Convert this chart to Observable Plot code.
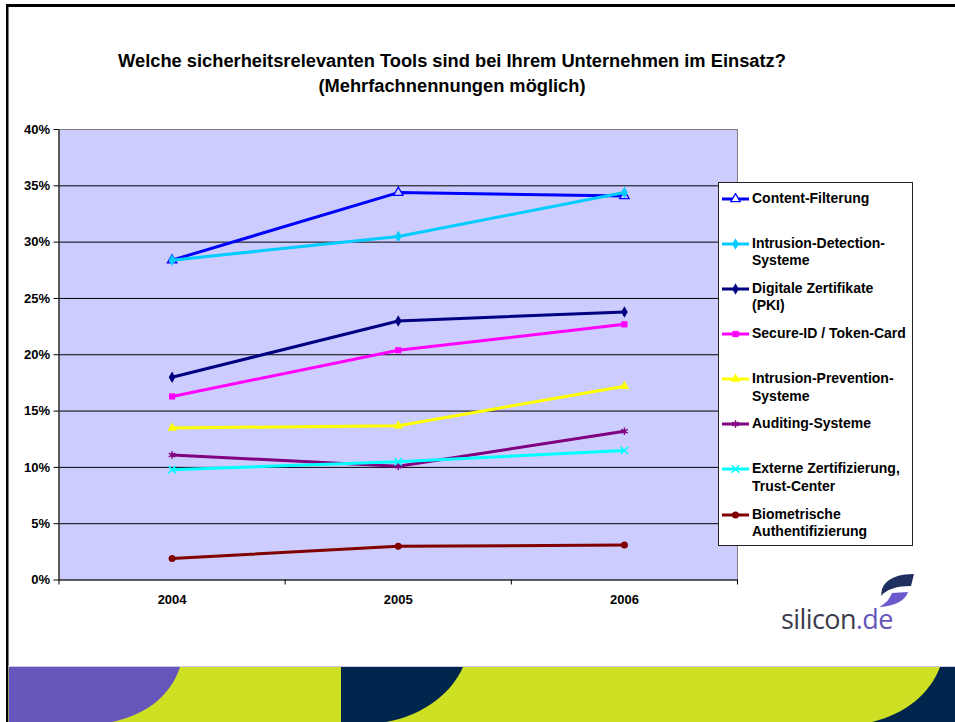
<!DOCTYPE html>
<html><head><meta charset="utf-8">
<script src="https://cdn.jsdelivr.net/npm/d3@7"></script>
<script src="https://cdn.jsdelivr.net/npm/@observablehq/plot@0.6"></script>
<style>
body{margin:0;background:#fff;font-family:"Liberation Sans",Arial,sans-serif;}
#page{position:relative;width:955px;height:722px;overflow:hidden;background:#fff;}
#page > *{position:absolute;}
#title{left:0;top:48px;width:904px;text-align:center;font-weight:bold;font-size:18.3px;line-height:25px;color:#000;}
#legend{left:718px;top:182px;width:193px;height:362px;border:1px solid #222;background:#fff;}
.entry{position:absolute;left:0;font-weight:bold;font-size:14px;line-height:17.4px;color:#000;white-space:pre-line;}
.entry svg{position:absolute;left:3px;top:3px;}
.entry span{position:absolute;left:33px;top:0;width:165px;}
#logo{left:781px;top:600px;font-family:"Open Sans","Noto Sans",sans-serif;font-size:27px;color:#3c3c4c;letter-spacing:-0.6px;}
#logo b{font-weight:normal;color:#6655bb;}
</style></head><body><div id="page"></div>
<script>
// ---------- data ----------
const years = [2004, 2005, 2006];
const seriesNames = ["Content-Filterung","Intrusion-Detection-Systeme","Digitale Zertifikate (PKI)","Secure-ID / Token-Card","Intrusion-Prevention-Systeme","Auditing-Systeme","Externe Zertifizierung, Trust-Center","Biometrische Authentifizierung"];
const legendLabels = ["Content-Filterung","Intrusion-Detection-\nSysteme","Digitale Zertifikate\n(PKI)","Secure-ID / Token-Card","Intrusion-Prevention-\nSysteme","Auditing-Systeme","Externe Zertifizierung,\nTrust-Center","Biometrische\nAuthentifizierung"];
const seriesColors = ["#0000ff","#00ccff","#000080","#ff00ff","#ffff00","#800080","#00ffff","#800000"];
const seriesSymbols = ["triangle","diamond","diamond","square","triangle","asterisk","times","circle"];
const contentFilterung = [28.4, 34.4, 34.1];
const intrusionDetection = [28.4, 30.5, 34.4];
const digitaleZertifikate = [18.0, 23.0, 23.8];
const secureId = [16.3, 20.4, 22.7];
const intrusionPrevention = [13.5, 13.7, 17.2];
const auditing = [11.1, 10.1, 13.2];
const externeZertifizierung = [9.8, 10.5, 11.5];
const biometrie = [1.9, 3.0, 3.1];
const seriesValues = [contentFilterung, intrusionDetection, digitaleZertifikate, secureId, intrusionPrevention, auditing, externeZertifizierung, biometrie];
const yTicks = [0, 5, 10, 15, 20, 25, 30, 35, 40];
const gridValues = [5, 10, 15, 20, 25, 30, 35];
const xBounds = [2003.5, 2004.5, 2005.5, 2006.5];
const titleLines = ["Welche sicherheitsrelevanten Tools sind bei Ihrem Unternehmen im Einsatz?", "(Mehrfachnennungen möglich)"];

// ---------- build ----------
const rows = seriesNames.flatMap((name, i) => years.map((year, j) => ({series: name, year, value: seriesValues[i][j]})));
const page = document.getElementById("page");

// decorative background (frame, band, logo swoosh)
const deco = d3.create("svg").attr("width", 955).attr("height", 722).style("left", "0px").style("top", "0px");
deco.append("rect").attr("x", 6).attr("y", 4).attr("width", 949).attr("height", 3).attr("fill", "#000");
deco.append("rect").attr("x", 6).attr("y", 4).attr("width", 2.5).attr("height", 718).attr("fill", "#000");
const bandTop = 667;
deco.append("rect").attr("x", 8).attr("y", bandTop).attr("width", 947).attr("height", 55).attr("fill", "#cde024");
deco.append("path").attr("fill", "#6655bb").attr("d", `M8.5,${bandTop} L180,${bandTop} C172,692 150,714 112,722 L8.5,722 Z`);
deco.append("path").attr("fill", "#00264d").attr("d", `M341,${bandTop} L463,${bandTop} C452,692 425,715 386,722 L341,722 Z`);
deco.append("path").attr("fill", "#00264d").attr("d", `M940,${bandTop} L955,${bandTop} L955,722 L872,722 C905,714 930,694 940,${bandTop} Z`);
deco.append("rect").attr("x", 8).attr("y", bandTop - 1).attr("width", 947).attr("height", 1).attr("fill", "#c9c6e8");
deco.append("path").attr("fill", "#1f2f5f").attr("d", "M914,574 C899,574 886,578 882,589 L881,596 C887,589 897,586 911,586 Z");
deco.append("path").attr("fill", "#6a5acd").attr("d", "M908,592 C905,601 895,606 879,607 C887,603 890,598 892,593 Z");
page.appendChild(deco.node());

const marks = [
  Plot.frame({fill: "#ccccff", stroke: "none"}),
  Plot.ruleY(gridValues, {stroke: "#000", strokeWidth: 1}),
  Plot.frame({stroke: "#808080"}),
  Plot.ruleX([xBounds[0]], {stroke: "#000"}),
  Plot.ruleY([0], {stroke: "#000"}),
  Plot.axisY({ticks: yTicks, tickFormat: d => d + "%", tickSize: 5, tickPadding: 4, fontSize: 13, fontWeight: "bold", label: null}),
  Plot.axisX({ticks: xBounds, tickSize: 5, tickFormat: () => "", label: null}),
  Plot.axisX({ticks: years, tickSize: 0, tickPadding: 15, tickFormat: d => String(d), fontSize: 13, fontWeight: "bold", label: null})
];
seriesNames.forEach((name, i) => {
  const data = rows.filter(r => r.series === name);
  marks.push(Plot.line(data, {x: "year", y: "value", stroke: seriesColors[i], strokeWidth: 3}));
  const sym = seriesSymbols[i];
  const strokeOnly = sym === "asterisk" || sym === "times";
  const opts = {x: "year", y: "value", symbol: () => sym, r: 3.5};
  if (strokeOnly) Object.assign(opts, {fill: "none", stroke: seriesColors[i], strokeWidth: 1.5});
  else if (i === 0) Object.assign(opts, {fill: "#ccccff", stroke: seriesColors[i], strokeWidth: 1.3});
  else Object.assign(opts, {fill: seriesColors[i], stroke: "none"});
  marks.push(Plot.dot(data, opts));
});

const chart = Plot.plot({
  width: 955, height: 722,
  marginTop: 129, marginBottom: 142.5, marginLeft: 58.5, marginRight: 218,
  x: {type: "linear", domain: [xBounds[0], xBounds[3]]},
  y: {domain: [0, 40]},
  symbol: {type: "identity"},
  style: {fontFamily: "'Liberation Sans', Arial, sans-serif", color: "#000", background: "transparent", overflow: "visible"},
  marks
});
chart.style.left = "0px"; chart.style.top = "0px";
page.appendChild(chart);

// title
const title = document.createElement("div");
title.id = "title";
title.innerHTML = titleLines.join("<br>");
page.appendChild(title);

// legend
const symbolTypes = {triangle: d3.symbolTriangle, diamond: d3.symbolDiamond, square: d3.symbolSquare, circle: d3.symbolCircle, asterisk: d3.symbolAsterisk, times: d3.symbolTimes};
const legend = document.createElement("div");
legend.id = "legend";
page.appendChild(legend);
seriesNames.forEach((name, i) => {
  const e = document.createElement("div");
  e.className = "entry";
  e.style.top = (198.3 - 8.7 - 183 + i * 45.14) + "px";
  const s = d3.create("svg").attr("width", 28).attr("height", 12);
  s.append("line").attr("x1", 0).attr("x2", 27).attr("y1", 6).attr("y2", 6).attr("stroke", seriesColors[i]).attr("stroke-width", 3);
  const sym = seriesSymbols[i];
  const p = s.append("path").attr("transform", "translate(13.5,6)").attr("d", d3.symbol(symbolTypes[sym], 3.5 * 3.5 * Math.PI)());
  if (sym === "asterisk" || sym === "times") p.attr("fill", "none").attr("stroke", seriesColors[i]).attr("stroke-width", 1.5);
  else if (i === 0) p.attr("fill", "#fff").attr("stroke", seriesColors[i]).attr("stroke-width", 1.3);
  else p.attr("fill", seriesColors[i]);
  e.appendChild(s.node());
  const t = document.createElement("span");
  t.textContent = legendLabels[i];
  e.appendChild(t);
  legend.appendChild(e);
});

// logo text
const logo = document.createElement("div");
logo.id = "logo";
logo.innerHTML = "silicon<b>.de</b>";
page.appendChild(logo);
</script></body></html>
